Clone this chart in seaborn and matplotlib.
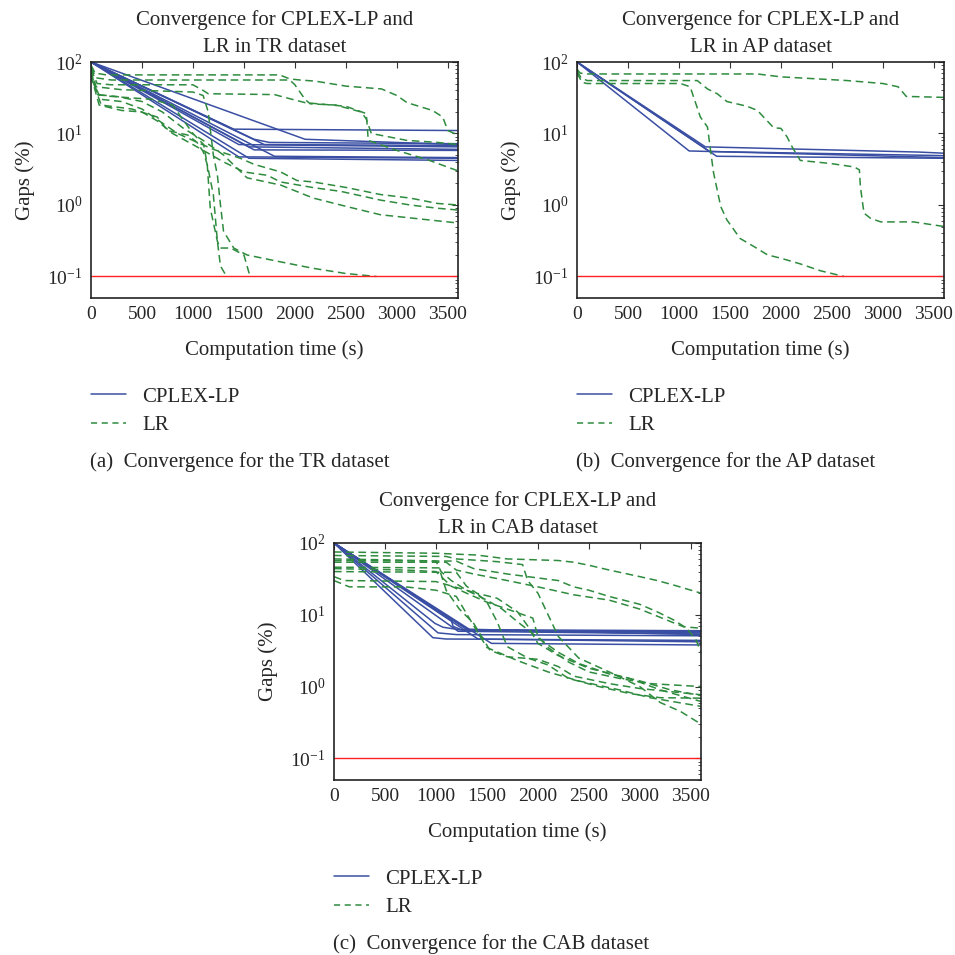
import numpy as np
import pandas as pd
import seaborn as sns
import matplotlib.pyplot as plt
from matplotlib.lines import Line2D
from matplotlib.ticker import LogLocator, FixedLocator

# ---- data (time in s, gap in %) ----
threshold = 0.1

# TR dataset
tr_cplex = [
    [(0, 100), (1400, 11.5), (3600, 11.0)],
    [(0, 100), (2100, 8.3), (3600, 7.0)],
    [(0, 100), (1600, 8.3), (1750, 7.5), (3600, 7.2)],
    [(0, 100), (1700, 7.0), (3600, 6.8)],
    [(0, 100), (1450, 7.0), (3600, 6.5)],
    [(0, 100), (1550, 6.5), (3600, 6.0)],
    [(0, 100), (1800, 4.8), (3600, 4.6)],
    [(0, 100), (1450, 4.7), (1600, 4.7), (3600, 4.5)],
    [(0, 100), (1600, 5.9), (3600, 5.8)],
    [(0, 100), (1550, 4.5), (3600, 4.2)],
]
tr_lr = [
    [(0, 90), (40, 70), (150, 66), (1850, 66), (1950, 58), (2050, 56), (2200, 54), (2500, 46),
     (2850, 42), (3000, 34), (3100, 27), (3350, 21), (3450, 17), (3500, 11), (3600, 9.5)],
    [(0, 85), (50, 60), (200, 56), (1950, 56), (2000, 48), (2100, 30), (2150, 26), (2400, 25),
     (2650, 20), (2700, 16), (2750, 10), (3100, 8), (3400, 7.5), (3600, 7)],
    [(0, 80), (60, 50), (200, 48), (1000, 48), (1100, 40), (1150, 36), (1800, 35), (1900, 32),
     (2100, 27), (2500, 24), (2700, 19), (2720, 8), (3000, 5.8), (3300, 4.3), (3600, 3.0)],
    [(0, 70), (50, 40), (100, 25), (400, 22), (650, 17), (750, 11), (950, 9.5), (1040, 7.5),
     (1100, 5.6), (1140, 3.7), (1200, 1.4), (1240, 0.31), (1270, 0.14), (1330, 0.1)],
    [(0, 75), (60, 35), (200, 33), (600, 30), (800, 25), (1000, 10), (1105, 7.0), (1140, 3.7),
     (1170, 0.9), (1240, 0.31), (1270, 0.25), (1370, 0.25), (1500, 0.2), (1560, 0.1)],
    [(0, 80), (50, 45), (300, 41), (1000, 38), (1100, 34), (1150, 20), (1200, 5.0), (1240, 2.6),
     (1270, 1.0), (1300, 0.43), (1400, 0.25), (1530, 0.2), (1860, 0.16), (2180, 0.13),
     (2500, 0.11), (2800, 0.1)],
    [(0, 60), (100, 30), (300, 28), (500, 22), (700, 14), (850, 10), (1000, 8), (1200, 6),
     (1465, 4.5), (1600, 3.7), (1860, 2.9), (2020, 2.2), (2180, 2.1), (2510, 1.75), (2840, 1.4),
     (3130, 1.25), (3400, 1.05), (3600, 1.0)],
    [(0, 65), (80, 25), (300, 21), (500, 20), (650, 15), (800, 10), (1000, 7), (1300, 4),
     (1500, 2.9), (1730, 2.6), (1860, 2.1), (2180, 1.75), (2450, 1.55), (2840, 1.17),
     (3130, 1.0), (3400, 0.9), (3600, 0.85)],
    [(0, 70), (60, 35), (250, 33), (500, 28), (700, 20), (900, 12), (1100, 8), (1300, 5),
     (1530, 2.4), (1860, 1.9), (2180, 1.25), (2510, 0.95), (2840, 0.73), (3130, 0.66),
     (3400, 0.6), (3600, 0.56)],
]

# AP dataset
ap_cplex = [
    [(0, 100), (1100, 5.7), (3600, 4.6)],
    [(0, 100), (1260, 6.5), (3350, 5.5), (3600, 5.3)],
    [(0, 100), (1300, 5.6), (3600, 4.9)],
    [(0, 100), (1370, 4.8), (3600, 4.5)],
]
ap_lr = [
    [(0, 80), (30, 70), (100, 68), (1770, 68), (2000, 62), (2650, 55), (3000, 50), (3150, 45),
     (3230, 33), (3600, 32)],
    [(0, 75), (40, 60), (100, 55), (1180, 55), (1280, 42), (1375, 36), (1470, 28), (1670, 24),
     (1770, 21), (1830, 17), (1930, 12), (2000, 11.8), (2060, 9), (2110, 6.5), (2190, 4.2),
     (2490, 3.8), (2720, 3.4), (2770, 3.1), (2780, 1.8), (2815, 0.77), (2880, 0.65),
     (2980, 0.58), (3300, 0.58), (3600, 0.5)],
    [(0, 70), (50, 52), (100, 50), (1015, 50), (1110, 45), (1210, 17), (1280, 12.3),
     (1310, 5.8), (1340, 2.8), (1410, 0.95), (1470, 0.62), (1600, 0.34), (1740, 0.26),
     (1870, 0.2), (2000, 0.18), (2190, 0.15), (2390, 0.12), (2620, 0.1)],
]

# CAB dataset
cab_cplex = [
    [(0, 100), (970, 4.8), (1100, 4.6), (3600, 4.4)],
    [(0, 100), (1020, 5.6), (1200, 5.3), (3600, 5.1)],
    [(0, 100), (990, 7.6), (1070, 6.7), (1300, 6.0), (3600, 5.8)],
    [(0, 100), (1150, 8.5), (1168, 6.9), (1250, 6.2), (3600, 6.0)],
    [(0, 100), (1217, 5.9), (3600, 5.4)],
    [(0, 100), (1315, 6.2), (3600, 5.6)],
    [(0, 100), (1413, 4.6), (3600, 4.2)],
    [(0, 100), (1544, 4.0), (3600, 3.8)],
    [(0, 100), (1300, 6.3), (3600, 5.3)],
]
cab_lr = [
    [(0, 75), (1000, 72), (1400, 68), (1700, 60), (2200, 57), (2350, 54), (2500, 49), (2700, 42),
     (3000, 34), (3170, 30), (3330, 26), (3600, 20)],
    [(0, 57), (1200, 56), (1250, 52), (1370, 44), (1700, 37), (1900, 34), (2200, 30), (2350, 24.5),
     (2500, 22), (2700, 18), (3000, 14), (3170, 11), (3330, 8.5), (3460, 6.5), (3550, 4.5),
     (3600, 3.0)],
    [(0, 54), (1100, 54), (1200, 42), (1370, 37), (1700, 30), (2000, 24.5), (2350, 19), (2700, 16),
     (3000, 12), (3260, 8.5), (3430, 6.8), (3600, 6.5)],
    [(0, 46), (1030, 45), (1100, 22), (1230, 12), (1370, 7.6), (1530, 3.2), (1700, 2.6), (2000, 2.4),
     (2200, 1.9), (2350, 1.4), (2700, 1.1), (3000, 0.94), (3600, 0.77)],
    [(0, 44), (700, 42), (1000, 40), (1150, 25), (1300, 20), (1500, 15), (1700, 12), (1950, 9),
     (2000, 5), (2100, 3.5), (2300, 2.2), (2500, 1.6), (2800, 1.3), (3100, 1.1), (3600, 1.0)],
    [(0, 40), (1200, 39), (1300, 25), (1400, 20), (1600, 17), (1800, 11), (1900, 7), (2000, 4),
     (2200, 2.7), (2500, 1.8), (2900, 1.3), (3200, 0.9), (3600, 0.62)],
    [(0, 34), (100, 30), (1000, 29), (1400, 20), (1500, 15), (1600, 8), (1700, 3.6), (1900, 2.5),
     (2100, 2.0), (2300, 1.3), (2600, 1.0), (2900, 0.8), (3200, 0.7), (3600, 0.69)],
    [(0, 30), (150, 24.5), (700, 24.5), (1000, 22), (1200, 18), (1400, 6), (1500, 3.5), (1800, 2.3),
     (2100, 1.6), (2400, 1.2), (2800, 0.9), (3100, 0.7), (3600, 0.53)],
    [(0, 67), (1100, 65), (1200, 60), (1600, 55), (1850, 50), (1900, 30), (2000, 20), (2100, 10),
     (2200, 5), (2400, 2.5), (2700, 1.6), (3000, 1.0), (3200, 0.6), (3400, 0.45), (3600, 0.30)],
    [(0, 60), (600, 58), (1000, 56), (1050, 40), (1150, 30), (1300, 22), (1500, 16), (1650, 12),
     (1800, 8), (2000, 4.8), (2200, 3.0), (2400, 2.1), (2700, 1.5), (3000, 1.2), (3300, 0.9),
     (3600, 0.75)],
]

datasets = ["TR", "AP", "CAB"]
captions = ["(a)  Convergence for the TR dataset",
            "(b)  Convergence for the AP dataset",
            "(c)  Convergence for the CAB dataset"]
x_ticks = [0, 500, 1000, 1500, 2000, 2500, 3000, 3500]


def to_frame(runs, method):
    rows = []
    for i, run in enumerate(runs):
        for t, g in run:
            rows.append({"time": t, "gap": g, "method": method, "run": f"{method}{i}"})
    return pd.DataFrame(rows)


sns.set_theme(style="white")
plt.rcParams['font.family'] = ['Liberation Serif', 'DejaVu Serif']
plt.rcParams['mathtext.fontset'] = 'stix'
fs = 15      # titles, labels, legend, captions
fs_tick = 14

blue = '#3a4fa3'
green = '#2e8b3e'

fig = plt.figure(figsize=(9.55, 9.55), dpi=100)
W, H = 955, 955
# axes boxes in pixels: left, top, right, bottom
boxes = [(91, 62, 458, 298), (577, 62, 944, 298), (334, 543, 701, 780)]

all_data = [(tr_cplex, tr_lr), (ap_cplex, ap_lr), (cab_cplex, cab_lr)]

for k, ((cp, lr), name, cap, box) in enumerate(zip(all_data, datasets, captions, boxes)):
    l, t, r, b = box
    ax = fig.add_axes([l / W, 1 - b / H, (r - l) / W, (b - t) / H])
    df = pd.concat([to_frame(cp, "CPLEX-LP"), to_frame(lr, "LR")])

    sns.lineplot(data=df[df.method == "CPLEX-LP"], x="time", y="gap", units="run",
                 estimator=None, color=blue, lw=1.1, ax=ax, legend=False)
    sns.lineplot(data=df[df.method == "LR"], x="time", y="gap", units="run",
                 estimator=None, color=green, lw=1.1, ax=ax, legend=False,
                 dashes=False)
    for line in ax.lines[len(cp):]:
        line.set_linestyle((0, (5, 3)))
    ax.axhline(threshold, color='#ff2020', lw=1.0)

    ax.set_yscale('log')
    ax.set_ylim(0.05, 100)
    ax.set_xlim(0, 3600)
    ax.xaxis.set_major_locator(FixedLocator(x_ticks))
    ax.yaxis.set_major_locator(LogLocator(base=10, numticks=10))
    ax.yaxis.set_minor_locator(LogLocator(base=10, subs=np.arange(2, 10), numticks=10))
    ax.tick_params(which='both', direction='in', top=True, right=True, labelsize=fs_tick,
                   color='#333333', pad=6)
    ax.tick_params(which='major', length=4, width=0.8)
    ax.tick_params(which='minor', length=2, width=0.6)
    ax.tick_params(axis='x', which='minor', bottom=False, top=False)
    for s in ax.spines.values():
        s.set_color('#222222')
        s.set_linewidth(1.2)

    ax.set_xlabel("Computation time (s)", fontsize=fs, labelpad=12)
    ax.set_ylabel("Gaps (%)", fontsize=fs, labelpad=9)
    ax.set_title(f"Convergence for CPLEX-LP and\nLR in {name} dataset", fontsize=fs,
                 pad=7, linespacing=1.6)

    handles = [Line2D([], [], color=blue, lw=1.1),
               Line2D([], [], color=green, lw=1.1, ls=(0, (4, 3)))]
    ax.legend(handles, ["CPLEX-LP", "LR"], loc='upper left',
              bbox_to_anchor=(l / W, 1 - (b + 89) / H), bbox_transform=fig.transFigure,
              frameon=False, fontsize=fs, handlelength=1.7, handletextpad=0.75,
              labelspacing=0.42, borderpad=0, borderaxespad=0)

    fig.text(l / W - 0.001, 1 - (b + 164) / H, cap, fontsize=fs, ha='left', va='center')

fig.savefig("out.png", dpi=100)
